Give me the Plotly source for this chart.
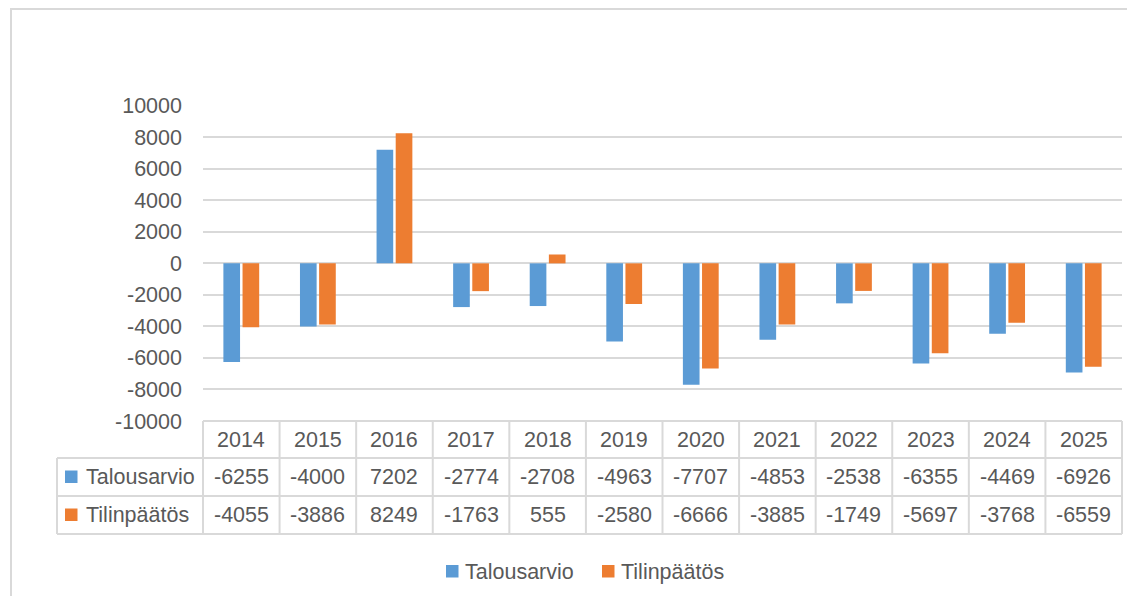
import plotly.graph_objects as go

years = ["2014", "2015", "2016", "2017", "2018", "2019", "2020", "2021", "2022", "2023", "2024", "2025"]
talousarvio = [-6255, -4000, 7202, -2774, -2708, -4963, -7707, -4853, -2538, -6355, -4469, -6926]
tilinpaatos = [-4055, -3886, 8249, -1763, 555, -2580, -6666, -3885, -1749, -5697, -3768, -6559]
series_names = ["Talousarvio", "Tilinpäätös"]
colors = ["#5B9BD5", "#ED7D31"]
y_ticks = list(range(-10000, 10001, 2000))
y_ticktext = [str(v) for v in y_ticks]

# page body margin in the browser is 8px; the figure fills the rest of the 1135x604 window
OFF = 8
W, H = 1135 - 2 * OFF, 604 - 2 * OFF
FONT = "Liberation Sans"
TXT = "#595959"
GRID = "#d9d9d9"
FS = 21.5


def X(px):
    return (px - OFF) / W


def Y(py):
    return 1 - (py - OFF) / H


# plot area (window pixels)
PX0, PX1 = 203, 1122
PY_TOP, PY_BOT = 105.7, 421
ROW_Y = [421, 458, 496, 534]
LAB_X0 = 57

fig = go.Figure()
for name, vals, col in zip(series_names, [talousarvio, tilinpaatos], colors):
    fig.add_trace(go.Bar(x=years, y=vals, name=name, marker=dict(color=col, line=dict(width=0)),
                         showlegend=False))

shapes = []
annotations = []

# outer border (right and bottom edges lie outside the picture)
shapes.append(dict(type="rect", xref="paper", yref="paper", x0=X(11), x1=X(1160), y0=Y(9), y1=Y(640),
                   line=dict(color=GRID, width=2), fillcolor="rgba(0,0,0,0)", layer="below"))

n = len(years)
cw = (PX1 - PX0) / n
line_style = dict(color=GRID, width=2)
# horizontal table lines
shapes.append(dict(type="line", xref="paper", yref="paper", x0=X(PX0), x1=X(PX1), y0=Y(ROW_Y[0]), y1=Y(ROW_Y[0]), line=line_style))
for ry in ROW_Y[1:]:
    shapes.append(dict(type="line", xref="paper", yref="paper", x0=X(LAB_X0), x1=X(PX1), y0=Y(ry), y1=Y(ry), line=line_style))
# vertical table lines
for i in range(n + 1):
    xx = PX0 + i * cw
    shapes.append(dict(type="line", xref="paper", yref="paper", x0=X(xx), x1=X(xx), y0=Y(ROW_Y[0]), y1=Y(ROW_Y[3]), line=line_style))
shapes.append(dict(type="line", xref="paper", yref="paper", x0=X(LAB_X0), x1=X(LAB_X0), y0=Y(ROW_Y[1]), y1=Y(ROW_Y[3]), line=line_style))

font = dict(family=FONT, size=FS, color=TXT)
for i, yr in enumerate(years):
    cx = PX0 + (i + 0.5) * cw
    annotations.append(dict(xref="paper", yref="paper", x=X(cx), y=Y((ROW_Y[0] + ROW_Y[1]) / 2), text=yr,
                            showarrow=False, xanchor="center", yanchor="middle", font=font))
    for r, vals in enumerate([talousarvio, tilinpaatos]):
        annotations.append(dict(xref="paper", yref="paper", x=X(cx), y=Y((ROW_Y[r + 1] + ROW_Y[r + 2]) / 2),
                                text=str(vals[i]), showarrow=False, xanchor="center", yanchor="middle", font=font))

for r, (name, col) in enumerate(zip(series_names, colors)):
    cy = (ROW_Y[r + 1] + ROW_Y[r + 2]) / 2
    shapes.append(dict(type="rect", xref="paper", yref="paper", x0=X(65), x1=X(77.5), y0=Y(cy - 6.5), y1=Y(cy + 6),
                       fillcolor=col, line=dict(width=0)))
    annotations.append(dict(xref="paper", yref="paper", x=X(84), y=Y(cy), text=name, showarrow=False,
                            xanchor="left", yanchor="middle", font=font))

# legend
LEG_Y = 571.5
for (x0, tx), name, col in zip([(446, 463), (602, 619)], series_names, colors):
    shapes.append(dict(type="rect", xref="paper", yref="paper", x0=X(x0), x1=X(x0 + 12.5), y0=Y(LEG_Y - 6.5), y1=Y(LEG_Y + 6),
                       fillcolor=col, line=dict(width=0)))
    annotations.append(dict(xref="paper", yref="paper", x=X(tx), y=Y(LEG_Y), text=name, showarrow=False,
                            xanchor="left", yanchor="middle", font=font))

fig.update_layout(
    width=W, height=H, autosize=False,
    margin=dict(l=0, r=0, t=0, b=0, pad=0, autoexpand=False),
    paper_bgcolor="white", plot_bgcolor="white",
    barmode="group", bargap=0.5, bargroupgap=0.13,
    xaxis=dict(domain=[X(PX0), X(PX1)], showticklabels=False, showgrid=False, zeroline=False,
               showline=False, ticks="", automargin=False),
    yaxis=dict(domain=[Y(PY_BOT), Y(PY_TOP)], range=[-10000, 10000], tickvals=y_ticks, ticktext=y_ticktext,
               showgrid=True, gridcolor=GRID, gridwidth=2, zeroline=False, showline=False,
               tickfont=font, ticks="", ticklabelstandoff=20, automargin=False),
    shapes=shapes, annotations=annotations,
    font=dict(family=FONT, color=TXT),
)

fig.write_html("out.html")
